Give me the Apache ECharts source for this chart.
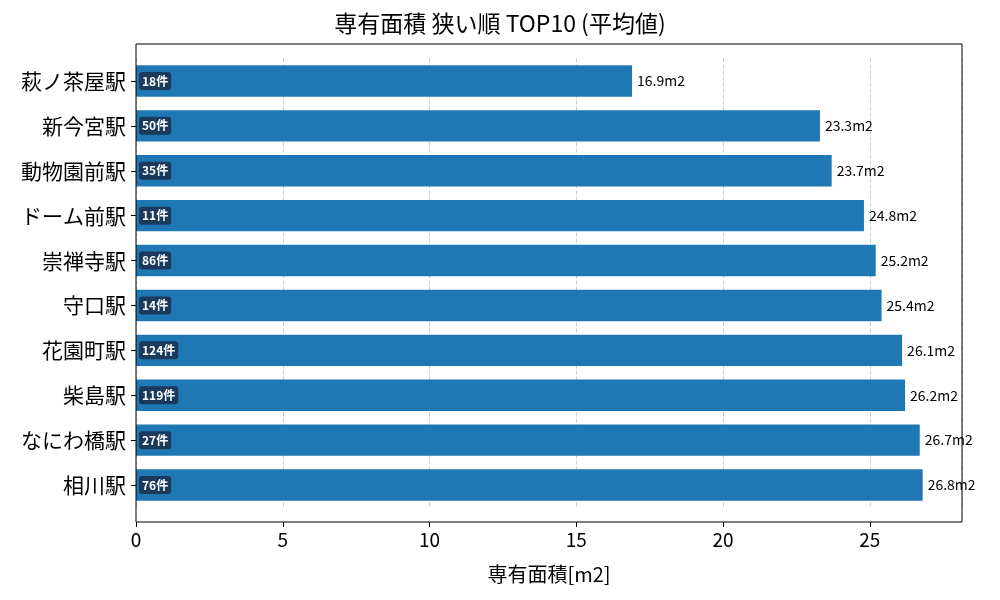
<!DOCTYPE html>
<html><head><meta charset="utf-8">
<script src="https://cdn.jsdelivr.net/npm/echarts@6/dist/echarts.min.js"></script>
</head><body style="margin:0">
<div id="c" style="width:1000px;height:600px"></div>
<script>
const categories = ["萩ノ茶屋駅","新今宮駅","動物園前駅","ドーム前駅","崇禅寺駅","守口駅","花園町駅","柴島駅","なにわ橋駅","相川駅"];
const values = [16.9,23.3,23.7,24.8,25.2,25.4,26.1,26.2,26.7,26.8];
const counts = [18,50,35,11,86,14,124,119,27,76];
const F = '"Noto Sans CJK JP","Noto Sans",sans-serif';
const chart = echarts.init(document.getElementById('c'));
chart.setOption({
  title:{text:'専有面積 狭い順 TOP10 (平均値)',left:'center',top:7,textStyle:{fontFamily:F,fontSize:23,fontWeight:'normal',color:'#000'}},
  grid:{left:136,right:38,top:58.5,bottom:92.5,show:false},
  graphic:[{type:'rect',shape:{x:136,y:44,width:826,height:478},style:{fill:'none',stroke:'#000',lineWidth:1},z:100}],
  xAxis:{type:'value',min:0,max:28.14,interval:5,offset:14.5,name:'専有面積[m2]',nameLocation:'middle',nameGap:42,
    nameTextStyle:{fontFamily:F,fontSize:20,color:'#000'},
    axisLine:{show:false},axisTick:{show:true,length:5,lineStyle:{color:'#000'}},
    axisLabel:{fontFamily:F,fontSize:19,color:'#000',showMaxLabel:false,formatter:v=>v%5===0?v:''},
    splitLine:{show:true,lineStyle:{type:'dashed',color:'#ccc'}}},
  yAxis:{type:'category',data:categories,inverse:true,
    axisLine:{show:false},axisTick:{show:true,alignWithLabel:true,length:5,lineStyle:{color:'#000'}},
    axisLabel:{fontFamily:F,fontSize:21,color:'#000',margin:10}},
  series:[
    {type:'bar',data:values,barCategoryGap:'30%',itemStyle:{color:'#1f77b4'},
     label:{show:true,position:'insideLeft',offset:[-2,0],formatter:p=>counts[p.dataIndex]+'件',
       fontFamily:F,fontSize:12,fontWeight:'bold',color:'#fff',backgroundColor:'#1a3a5c',padding:[3,3],borderRadius:3}},
    {type:'bar',data:values,barGap:'-100%',itemStyle:{color:'transparent'},silent:true,
     label:{show:true,position:'right',distance:5,formatter:p=>p.value+'m2',fontFamily:F,fontSize:14,color:'#000'}}
  ]
});
</script></body></html>
